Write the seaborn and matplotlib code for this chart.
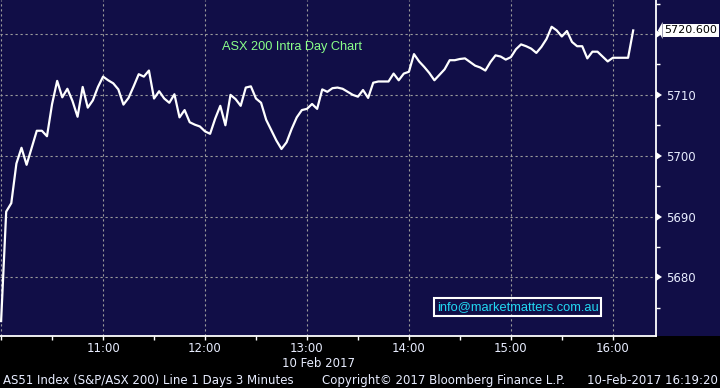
import matplotlib
matplotlib.use("Agg")
import matplotlib.pyplot as plt
import matplotlib.transforms as mtrans
from matplotlib.markers import CARETRIGHTBASE
from matplotlib.patches import Rectangle
from matplotlib.ticker import FixedLocator, FixedFormatter
import numpy as np
import pandas as pd
import seaborn as sns

# ---------------- data ----------------
interval_minutes = 3
session_start = "10:00"
prices = [5672.8, 5690.8, 5692.2, 5698.7, 5701.3, 5698.5, 5701.3, 5704.1, 5704.1, 5703.2,
          5708.5, 5712.3, 5709.6, 5711.0, 5709.0, 5706.4, 5711.3, 5707.9, 5709.1, 5711.3,
          5713.0, 5712.4, 5711.9, 5710.9, 5708.4, 5709.5, 5711.4, 5713.4, 5713.0, 5714.0,
          5709.4, 5710.6, 5709.4, 5708.7, 5710.1, 5706.3, 5707.5, 5705.5, 5705.1, 5704.8,
          5704.0, 5703.6, 5706.1, 5708.2, 5705.0, 5710.0, 5709.3, 5708.2, 5711.2, 5711.4,
          5709.4, 5708.7, 5705.9, 5704.2, 5702.5, 5701.1, 5702.2, 5704.4, 5706.3, 5707.5,
          5707.7, 5708.5, 5707.7, 5710.9, 5710.5, 5711.1, 5711.2, 5711.0, 5710.5, 5710.0,
          5709.7, 5710.8, 5709.5, 5712.0, 5712.2, 5712.2, 5712.2, 5713.5, 5712.4, 5713.5,
          5713.8, 5716.7, 5715.5, 5714.6, 5713.6, 5712.4, 5713.3, 5714.2, 5715.7, 5715.7,
          5715.9, 5716.0, 5715.4, 5714.8, 5714.5, 5714.0, 5715.4, 5716.5, 5716.3, 5715.8,
          5716.2, 5717.5, 5718.3, 5718.0, 5717.6, 5716.9, 5717.9, 5719.2, 5721.2, 5720.6,
          5719.6, 5720.5, 5718.7, 5718.0, 5718.0, 5716.0, 5717.1, 5717.1, 5716.3, 5715.5,
          5716.1, 5716.1, 5716.1, 5716.1, 5720.6]
hour_ticks = ["10:00", "11:00", "12:00", "13:00", "14:00", "15:00", "16:00"]
hour_tick_labels = ["", "11:00", "12:00", "13:00", "14:00", "15:00", "16:00"]
price_ticks = [5680, 5690, 5700, 5710, 5720]
price_tick_labels = ["5680", "5690", "5700", "5710", ""]
last_price_label = "5720.600"
chart_title = "ASX 200 Intra Day Chart"
date_label = "10 Feb 2017"
footer_left = "AS51 Index (S&P/ASX 200) Line 1 Days 3 Minutes"
footer_mid = "Copyright\u00a9 2017 Bloomberg Finance L.P."
footer_right = "10-Feb-2017 16:19:20"
watermark = "info@marketmatters.com.au"

# ---------------- styling ----------------
NAVY = "#110e47"
TXT = "#e8edff"
GRID = "#9b9b9b"

plt.rcParams["font.family"] = ["DejaVu Sans"]

def to_min(s):
    h, m = s.split(":")
    s0h, s0m = session_start.split(":")
    return (int(h) - int(s0h)) * 60 + int(m) - int(s0m)

df = pd.DataFrame({"minute": np.arange(len(prices)) * interval_minutes,
                   "price": prices})

W, H = 720, 388
fig = plt.figure(figsize=(W / 100, H / 100), dpi=100, facecolor="black")
ax_left, ax_right_px, ax_bottom_px = 0, 656.3, 335.7
ax = fig.add_axes([0, 1 - ax_bottom_px / H, ax_right_px / W, ax_bottom_px / H])
ax.set_facecolor(NAVY)
fig.patches.append(Rectangle((ax_right_px / W, 1 - ax_bottom_px / H),
                             1 - ax_right_px / W, ax_bottom_px / H,
                             transform=fig.transFigure, fc=NAVY, ec="none", zorder=-1))

sns.lineplot(data=df, x="minute", y="price", ax=ax, color="white",
             linewidth=1.6, estimator=None, legend=False, zorder=4)
ax.set_xlabel("")
ax.set_ylabel("")

ax.set_xlim(-0.65, 385.6)
ax.set_ylim(5670.4, 5725.6)

# x ticks
hour_pos = [to_min(h) for h in hour_ticks]
ax.xaxis.set_major_locator(FixedLocator(hour_pos))
ax.xaxis.set_major_formatter(FixedFormatter(hour_tick_labels))
ax.xaxis.set_minor_locator(FixedLocator([p + 30 for p in hour_pos]))
ax.tick_params(axis="x", which="both", direction="out", length=3, width=1,
               color="white", labelcolor=TXT, labelsize=8.5, pad=1.5)

# y ticks on right
ax.yaxis.tick_right()
ax.yaxis.set_major_locator(FixedLocator(price_ticks))
ax.yaxis.set_major_formatter(FixedFormatter(price_tick_labels))
ax.yaxis.set_minor_locator(FixedLocator([p - 5 for p in price_ticks] + [price_ticks[-1] + 5]))
ax.tick_params(axis="y", which="major", direction="out", length=5, width=1,
               color="white", labelcolor=TXT, labelsize=8.5, pad=2)
ax.tick_params(axis="y", which="minor", direction="out", length=3, width=1,
               color="white")
for t in ax.yaxis.get_major_ticks():
    t.tick2line.set_marker(CARETRIGHTBASE)
    t.tick2line.set_markersize(6)
    t.tick2line.set_markerfacecolor("white")
    t.tick2line.set_markeredgewidth(0)

for s in ["left", "top"]:
    ax.spines[s].set_visible(False)
for s in ["right", "bottom"]:
    ax.spines[s].set_color("white")
    ax.spines[s].set_linewidth(1.3)

ax.grid(True, which="major", color=GRID, linestyle=(0, (2, 2.5)), linewidth=0.8)
ax.set_axisbelow(True)

# last value tag
blend = mtrans.blended_transform_factory(ax.transAxes, ax.transData)
ax.plot([1], [prices[-1]], transform=blend, marker=[(0.08, 0), (0.36, 0.5), (0.36, -0.5)],
        markersize=12.2, color="white", markeredgewidth=0, clip_on=False, zorder=6)
ax.annotate(last_price_label, xy=(1, prices[-1]), xycoords=("axes fraction", "data"),
            xytext=(8, 0), textcoords="offset pixels", ha="left", va="center",
            fontsize=8, color="black", annotation_clip=False, zorder=6,
            bbox=dict(boxstyle="square,pad=0.15", fc="white", ec="none"))

# texts
fig.text(292 / W, 1 - 50 / H, chart_title, ha="center", va="baseline",
         color="#8aff8a", fontsize=9.2, family=["Liberation Sans", "DejaVu Sans"])
fig.text(517.7 / W, 1 - 306.7 / H, watermark, ha="center", va="center",
         color="#22d8f2", fontsize=9.3, family=["Liberation Sans", "DejaVu Sans"],
         bbox=dict(boxstyle="square,pad=0.22", fc="none", ec="white", lw=1.5))
fig.text(355 / W, 1 - 366.7 / H, date_label, ha="right", va="baseline",
         color=TXT, fontsize=8.5)
fig.text(3 / W, 1 - 384.3 / H, footer_left, ha="left", va="baseline",
         color=TXT, fontsize=8.5)
fig.text(321.7 / W, 1 - 384.3 / H, footer_mid, ha="left", va="baseline",
         color=TXT, fontsize=8.5)
fig.text(718 / W, 1 - 384.3 / H, footer_right, ha="right", va="baseline",
         color=TXT, fontsize=8.5)

fig.savefig("out.png", dpi=100, facecolor="black")
